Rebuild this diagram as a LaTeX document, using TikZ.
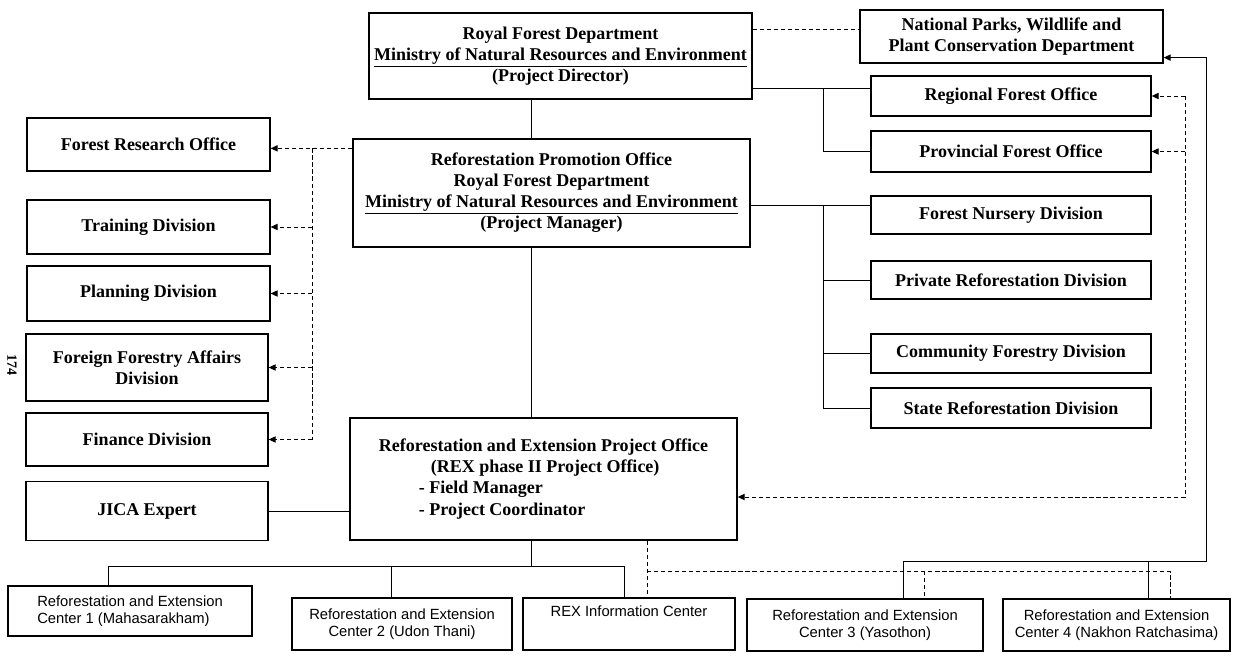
\documentclass[tikz,border=0pt]{standalone}
\usepackage{fontspec}
\setmainfont{Liberation Serif}
\newfontfamily\centrefont{Liberation Sans}
\usetikzlibrary{arrows.meta}
\newcommand{\boxfont}{\bfseries\fontsize{12.8}{15}\selectfont}
\newcommand{\centresize}{\centrefont\fontsize{10.5}{12.5}\selectfont}

\begin{document}
\begin{tikzpicture}[x=0.025cm,y=-0.025cm,
    every node/.style={font=\boxfont},
    unit/.style={draw,line width=0.9pt,inner sep=1pt,align=center},
    centre/.style={unit,font=\centresize},
    link/.style={line width=0.7pt},
    dashline/.style={line width=0.7pt,dash pattern=on 3pt off 2pt},
    tip/.style={-{Triangle[length=5pt,width=4.5pt]}}]
    \useasboundingbox (0,0) rectangle (1237,662);
    % Head offices
    \node[unit,minimum width=9.575cm,minimum height=2.15cm] (rfd) at (560.5,56)
      {Royal Forest Department\\\underline{Ministry of Natural Resources and Environment}\\(Project Director)};
    \node[unit,minimum width=9.925cm,minimum height=2.7cm] (rpo) at (551.5,193)
      {Reforestation Promotion Office\\Royal Forest Department\\\underline{Ministry of Natural Resources and Environment}\\(Project Manager)};
    \node[unit,align=left,minimum width=9.675cm,minimum height=3.05cm] (rex) at (543.5,479)
      {Reforestation and Extension Project Office\\\hspace*{1.3cm}(REX phase II Project Office)\\\hspace*{1cm}- Field Manager\\\hspace*{1cm}- Project Coordinator};
    \node[unit,minimum width=7.575cm,minimum height=1.325cm] (np) at (1011.5,36.5)
      {National Parks, Wildlife and\\Plant Conservation Department};
    % Right column
    \node[unit,minimum width=7cm,minimum height=1cm] (rfo) at (1011,96) {Regional Forest Office};
    \node[unit,minimum width=7cm,minimum height=1.025cm] (pfo) at (1011,151.5) {Provincial Forest Office};
    \node[unit,minimum width=7cm,minimum height=0.95cm] (fnd) at (1011,215) {Forest Nursery Division};
    \node[unit,minimum width=7cm,minimum height=0.95cm] (prd) at (1011,280) {Private Reforestation Division};
    \node[unit,minimum width=7cm,minimum height=0.975cm] (cfd) at (1011,353.5) {Community Forestry Division};
    \node[unit,minimum width=7cm,minimum height=1cm] (srd) at (1011,408) {State Reforestation Division};
    % Left column
    \node[unit,minimum width=6.075cm,minimum height=1.325cm] (fro) at (148.5,144.5) {Forest Research Office};
    \node[unit,minimum width=6.075cm,minimum height=1.35cm] (tra) at (148.5,227) {Training Division};
    \node[unit,minimum width=6.075cm,minimum height=1.375cm] (pla) at (148.5,293.5) {Planning Division};
    \node[unit,minimum width=6.05cm,minimum height=1.675cm] (ffa) at (147,367.5) {Foreign Forestry Affairs\\Division};
    \node[unit,minimum width=6.05cm,minimum height=1.325cm] (fin) at (147,439.5) {Finance Division};
    \node[unit,minimum width=6.05cm,minimum height=1.475cm] (jica) at (147,511) {JICA Expert};
    \node[rotate=-90,font=\bfseries\fontsize{10}{12}\selectfont] (folio) at (12,365) {174};
    % Centres
    \node[centre,align=left,minimum width=6.1cm,minimum height=1.25cm] (rec1) at (130,611)
      {Reforestation and Extension\\Center 1 (Mahasarakham)};
    \node[centre,minimum width=5.5cm,minimum height=1.3cm] (rec2) at (402,624)
      {Reforestation and Extension\\Center 2 (Udon Thani)};
    \node[centre,minimum width=5.3cm,minimum height=1.3cm] (rei) at (629,624)
      {REX Information Center\\[6pt]\mbox{}};
    \node[centre,minimum width=5.9cm,minimum height=1.3cm] (rec3) at (865,625)
      {Reforestation and Extension\\Center 3 (Yasothon)};
    \node[centre,minimum width=5.675cm,minimum height=1.3cm] (rec4) at (1116.5,625)
      {Reforestation and Extension\\Center 4 (Nakhon Ratchasima)};
    % Bus lines
    \coordinate (spine) at (531,0);
    \coordinate (leftbus) at (312,0);
    \coordinate (midbus) at (823,0);
    \coordinate (dashbus) at (1185,0);
    \coordinate (farbus) at (1206,0);
    \coordinate (rfdout) at ([yshift=0.275cm]rfd.south east);
    \coordinate (rfdside) at ([yshift=-0.425cm]rfd.north east);
    \coordinate (rpoleft) at ([yshift=-0.25cm]rpo.north west);
    \coordinate (rpoout) at ([yshift=1.05cm]rpo.south east);
    \coordinate (rexin) at ([yshift=-0.45cm]rex.east);
    \coordinate (npin) at ([yshift=0.15cm]np.south east);
    % Main line
    \draw[link] (rfd.south -| spine) -- (rpo.north -| spine);
    \draw[link] (rpo.south -| spine) -- (rex.north -| spine);
    \draw[link] (jica.east) -- (jica.east -| rex.west);
    \draw[dashline] (rfdside) -- (rfdside -| np.west);
    % Regional and provincial offices
    \draw[link] (rfdout) -- (rfdout -| rfo.west);
    \draw[link] (midbus |- rfdout) |- (pfo.west);
    % Divisions
    \draw[link] (rpoout) -- (rpoout -| fnd.west);
    \draw[link] (midbus |- rpoout) -- (midbus |- srd.west);
    \foreach \n in {prd,cfd,srd} { \draw[link] (midbus |- \n.west) -- (\n.west); }
    \draw[dashline,tip] (rpoleft) -- (rpoleft -| fro.east);
    \draw[dashline] (leftbus |- rpoleft) -- (leftbus |- fin.east);
    \foreach \n in {tra,pla,ffa,fin} { \draw[dashline,tip] (leftbus |- \n.east) -- (\n.east); }
    % Dashed feedback on the right
    \draw[dashline] (dashbus |- rfo.east) -- (dashbus |- rexin);
    \foreach \n in {rfo,pfo} { \draw[dashline,tip] (dashbus |- \n.east) -- (\n.east); }
    \draw[dashline,tip] (dashbus |- rexin) -- (rexin);
    % Centres below
    \coordinate (b1) at (108,566);
    \coordinate (b2) at (391,566);
    \coordinate (b3) at (624,566);
    \draw[link] (rex.south -| spine) -- (spine |- b1);
    \draw[link] (rec1.north -| b1) -- (b1) -- (b3) -- (rei.north -| b3);
    \draw[link] (b2) -- (rec2.north -| b2);
    \coordinate (d0) at (647,571);
    \coordinate (d3) at (924,571);
    \coordinate (d4) at (1170,571);
    \draw[dashline] (rex.south -| d0) -- (rei.north -| d0);
    \draw[dashline] (d0) -- (d4) -- (rec4.north -| d4);
    \draw[dashline] (d3) -- (rec3.north -| d3);
    \coordinate (t3) at (903,561);
    \coordinate (t4) at (1148,561);
    \draw[link,tip] (rec3.north -| t3) -- (t3) -- (farbus |- t3) |- (npin);
    \draw[link] (t4) -- (rec4.north -| t4);
\end{tikzpicture}
\end{document}
